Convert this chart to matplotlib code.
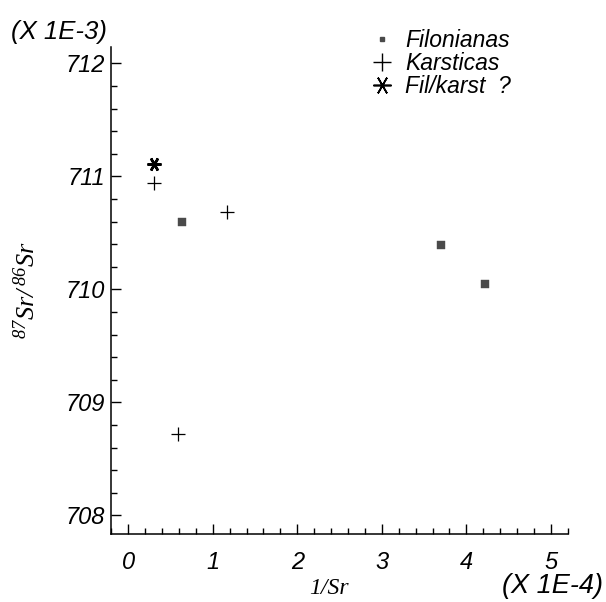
import matplotlib
matplotlib.use("Agg")
import matplotlib.pyplot as plt
from matplotlib.lines import Line2D
from matplotlib.ticker import MultipleLocator

# ---- data (x in units of 1E-4, y in units of 1E-3) ----
fil_x = [0.64, 3.70, 4.22]
fil_y = [710.60, 710.39, 710.05]
kar_x = [0.30, 1.17, 0.59]
kar_y = [710.94, 710.68, 708.72]
fk_x = [0.30]
fk_y = [711.11]
labels = ["Filonianas", "Karsticas", "Fil/karst  ?"]
xticks = [0, 1, 2, 3, 4, 5]
yticks = [708, 709, 710, 711, 712]

plt.rcParams['mathtext.fontset'] = 'custom'
plt.rcParams['mathtext.rm'] = 'Liberation Serif:italic'
plt.rcParams['mathtext.it'] = 'Liberation Serif:italic'

sans = ['Liberation Sans', 'DejaVu Sans']
fig = plt.figure(figsize=(6.06, 6.02), dpi=100)
ax = fig.add_axes([0.183, 0.113, 0.754, 0.809])

ax.plot(fil_x, fil_y, ls='none', marker='s', ms=5.5, mfc='#4a4a4a', mec='#4a4a4a', mew=0.3)
ax.plot(kar_x, kar_y, ls='none', marker='+', ms=10, mec='black', mew=0.9)
ax.plot(fk_x, fk_y, ls='none', marker=(6, 2, 90), ms=10, mec='black', mew=1.8)

ax.set_xlim(-0.205, 5.2)
ax.set_ylim(707.835, 712.145)
ax.set_xticks(xticks)
ax.set_yticks(yticks)
ax.xaxis.set_minor_locator(MultipleLocator(0.2))
ax.yaxis.set_minor_locator(MultipleLocator(0.2))
ax.tick_params(which='major', direction='in', length=7, width=1.0, pad=12, labelsize=17)
ax.tick_params(which='minor', direction='in', length=4, width=1.0)
for lab in ax.get_xticklabels() + ax.get_yticklabels():
    lab.set_family(sans)
    lab.set_style('italic')
ax.tick_params(axis='y', pad=4)

for s in ['top', 'right']:
    ax.spines[s].set_visible(False)
for s in ['left', 'bottom']:
    ax.spines[s].set_linewidth(1.1)

handles = [
    Line2D([], [], ls='none', marker='s', ms=3.5, mfc='#4a4a4a', mec='#4a4a4a'),
    Line2D([], [], ls='none', marker='+', ms=13, mec='black', mew=1.0),
    Line2D([], [], ls='none', marker=(6, 2, 90), ms=13, mec='black', mew=1.2),
]
leg = ax.legend(handles, labels, loc='upper left', frameon=False,
                prop={'family': sans, 'style': 'italic', 'size': 16.5},
                handlelength=1.0, handletextpad=0.5, labelspacing=0.0,
                borderpad=0.0, borderaxespad=0.0)
leg.set_bbox_to_anchor((0.612, 0.951), transform=fig.transFigure)

fig.text(0.018, 0.947, "(X 1E-3)", family=sans, style='italic', fontsize=18.5,
         ha='left', va='center')
fig.text(0.828, 0.026, "(X 1E-4)", family=sans, style='italic', fontsize=19.5,
         ha='left', va='center')
fig.text(0.543, 0.022, "1/Sr", family='Liberation Serif', style='italic', fontsize=17,
         ha='center', va='center')
fig.text(0.046, 0.518, r"$^{87}Sr/\,^{86}Sr$", fontsize=19, rotation=90,
         ha='center', va='center')

fig.savefig("out.png", dpi=100)
